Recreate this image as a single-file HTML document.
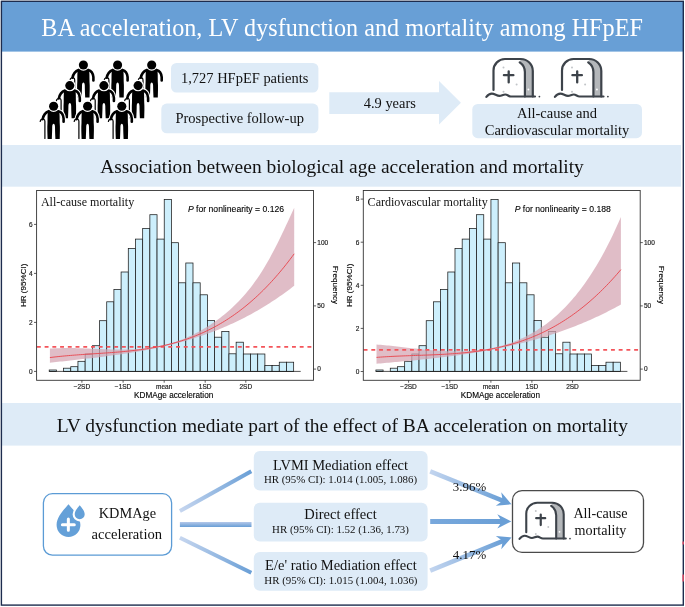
<!DOCTYPE html>
<html><head><meta charset="utf-8"><title>BA acceleration, LV dysfunction and mortality among HFpEF</title>
<style>html,body{margin:0;padding:0;background:#fff;} body{width:685px;height:607px;overflow:hidden;font-family:"Liberation Serif",serif;}</style>
</head><body>
<svg width="685" height="607" viewBox="0 0 685 607" style="display:block;will-change:transform">
<defs>
<g id="tomb">
<path d="M37.7,8.3 C41,10.5 42.9,13.5 42.9,18 L42.9,42.5 L50.8,42.5 L50.8,17 A12,12 0 0 0 38.8,5 Z" fill="#b4b7ba"/>
<path d="M11.5,35.9 L11.5,16.5 A11.5,11.5 0 0 1 23,5 L38.8,5 A12,12 0 0 1 50.8,17 L50.8,42.5" fill="none" stroke="#3d434a" stroke-width="2.2" stroke-linecap="round"/>
<path d="M37.7,8.3 C41,10.5 42.9,13.5 42.9,18 L42.9,42.5" fill="none" stroke="#3d434a" stroke-width="2.2" stroke-linecap="round"/>
<path d="M26.7,17.3 L26.7,28.4 M21.9,21.2 L31.4,21.2" fill="none" stroke="#3d434a" stroke-width="2.3" stroke-linecap="round"/>
<path d="M4.4,42.9 C6,40.8 7.8,39.6 9.8,39.6 C12.8,39.6 14.6,41.9 17.5,41.9 C19.6,41.9 21,40.5 23.2,40.5 C25.6,40.5 26.6,42.5 29,42.5 L53,42.5" fill="none" stroke="#3d434a" stroke-width="2.2" stroke-linecap="round"/>
<circle cx="21.5" cy="13.6" r="1" fill="#c2c5c8"/>
<circle cx="34.6" cy="30.5" r="1" fill="#c2c5c8"/>
<circle cx="21.5" cy="37.8" r="1" fill="#c2c5c8"/>
<circle cx="46.4" cy="35.5" r="0.95" fill="#fff"/>
<circle cx="57.4" cy="42.6" r="0.9" fill="#3d434a"/>
</g>
<g id="pb" fill="#000" stroke="#000" stroke-width="0"><path d="M-5.6,4.6 C-3.6,3.2 3.6,3.2 5.6,4.6 C6.2,8 6.0,12 6.1,16.5 C6.5,21 6.3,27 6.1,32.6 L1.8,32.6 C1.6,28 1.4,24 1.4,20.6 C1.4,16.3 -1.4,16.3 -1.4,20.6 C-1.4,24 -1.6,28 -1.8,32.6 L-6.0,32.6 C-6.2,27 -6.5,21 -6.1,16.5 C-6.0,12 -6.2,8 -5.6,4.6 Z"/>
<path d="M-4.8,4.9 C-7.7,5.9 -10.2,8.8 -10.9,12.8" fill="none" stroke-width="2.6" stroke-linecap="round"/>
<path d="M4.8,4.9 C7.9,5.6 9.7,8.6 10.0,12.2 L10.0,15.4" fill="none" stroke-width="2.6" stroke-linecap="round"/>
<path d="M-13.4,15.2 C-13.2,13.2 -11.3,12.3 -9.8,12.9 C-9.0,13.3 -8.7,14 -8.7,15 L-8.7,32.2" fill="none" stroke-width="1.2" stroke-linecap="round"/></g>
<g id="pw" fill="#fff" stroke="#fff" stroke-width="2.4" stroke-linejoin="round"><path d="M-5.6,4.6 C-3.6,3.2 3.6,3.2 5.6,4.6 C6.2,8 6.0,12 6.1,16.5 C6.5,21 6.3,27 6.1,32.6 L1.8,32.6 C1.6,28 1.4,24 1.4,20.6 C1.4,16.3 -1.4,16.3 -1.4,20.6 C-1.4,24 -1.6,28 -1.8,32.6 L-6.0,32.6 C-6.2,27 -6.5,21 -6.1,16.5 C-6.0,12 -6.2,8 -5.6,4.6 Z"/>
<path d="M-4.8,4.9 C-7.7,5.9 -10.2,8.8 -10.9,12.8" fill="none" stroke-width="4.7" stroke-linecap="round"/>
<path d="M4.8,4.9 C7.9,5.6 9.7,8.6 10.0,12.2 L10.0,15.4" fill="none" stroke-width="4.7" stroke-linecap="round"/>
<path d="M-13.4,15.2 C-13.2,13.2 -11.3,12.3 -9.8,12.9 C-9.0,13.3 -8.7,14 -8.7,15 L-8.7,32.2" fill="none" stroke-width="3.3" stroke-linecap="round"/></g>
<linearGradient id="c1" gradientUnits="userSpaceOnUse" x1="179.9" y1="511.1" x2="251.3" y2="471.3"><stop offset="0" stop-color="#c6d6ef"/><stop offset="1" stop-color="#6a9fd6"/></linearGradient>
<linearGradient id="c2" gradientUnits="userSpaceOnUse" x1="179.9" y1="521.9" x2="179.9" y2="526.9"><stop offset="0" stop-color="#b6c9ea"/><stop offset="1" stop-color="#6a9fd6"/></linearGradient>
<linearGradient id="c3" gradientUnits="userSpaceOnUse" x1="179.9" y1="537.8" x2="251.3" y2="572.8"><stop offset="0" stop-color="#c6d6ef"/><stop offset="1" stop-color="#6a9fd6"/></linearGradient>
<linearGradient id="a1" gradientUnits="userSpaceOnUse" x1="430.2" y1="471.3" x2="503.16" y2="500.92"><stop offset="0" stop-color="#c3d5ef"/><stop offset="1" stop-color="#6a9fd6"/></linearGradient>
<linearGradient id="a2" gradientUnits="userSpaceOnUse" x1="430.2" y1="521.4" x2="502.3" y2="521.4"><stop offset="0" stop-color="#78a8dc"/><stop offset="1" stop-color="#6a9fd6"/></linearGradient>
<linearGradient id="a3" gradientUnits="userSpaceOnUse" x1="430.2" y1="570.7" x2="503.17" y2="540.81"><stop offset="0" stop-color="#c3d5ef"/><stop offset="1" stop-color="#6a9fd6"/></linearGradient>
</defs>
<rect x="0" y="0" width="685" height="607" fill="#fff"/>
<!-- header -->
<rect x="2" y="2" width="681.5" height="49.6" fill="#689fd6"/>
<text transform="translate(342.1,35.8) scale(1,1.08)" x="0" y="0" font-size="24.18" text-anchor="middle" fill="#fff" font-family="'Liberation Serif', serif">BA acceleration, LV dysfunction and mortality among HFpEF</text>
<!-- section 1 -->
<g transform="translate(83.4,65.0)"><use href="#pw"/><use href="#pb"/><circle r="4.55" fill="#000" stroke="#fff" stroke-width="2.4" paint-order="stroke"/></g><g transform="translate(117.6,65.0)"><use href="#pw"/><use href="#pb"/><circle r="4.55" fill="#000" stroke="#fff" stroke-width="2.4" paint-order="stroke"/></g><g transform="translate(151.7,65.0)"><use href="#pw"/><use href="#pb"/><circle r="4.55" fill="#000" stroke="#fff" stroke-width="2.4" paint-order="stroke"/></g><g transform="translate(69.8,85.6)"><use href="#pw"/><use href="#pb"/><circle r="4.55" fill="#000" stroke="#fff" stroke-width="2.4" paint-order="stroke"/></g><g transform="translate(103.9,85.6)"><use href="#pw"/><use href="#pb"/><circle r="4.55" fill="#000" stroke="#fff" stroke-width="2.4" paint-order="stroke"/></g><g transform="translate(138.1,85.6)"><use href="#pw"/><use href="#pb"/><circle r="4.55" fill="#000" stroke="#fff" stroke-width="2.4" paint-order="stroke"/></g><g transform="translate(53.6,106.3)"><use href="#pw"/><use href="#pb"/><circle r="4.55" fill="#000" stroke="#fff" stroke-width="2.4" paint-order="stroke"/></g><g transform="translate(87.6,106.3)"><use href="#pw"/><use href="#pb"/><circle r="4.55" fill="#000" stroke="#fff" stroke-width="2.4" paint-order="stroke"/></g><g transform="translate(121.8,106.3)"><use href="#pw"/><use href="#pb"/><circle r="4.55" fill="#000" stroke="#fff" stroke-width="2.4" paint-order="stroke"/></g>
<rect x="171" y="62.9" width="147.4" height="29.7" rx="5.5" fill="#deebf7"/>
<text x="244.7" y="82.8" font-size="14.48" text-anchor="middle" fill="#111" font-family="'Liberation Serif', serif">1,727 HFpEF patients</text>
<rect x="161.3" y="103.6" width="157.1" height="29.7" rx="5.5" fill="#deebf7"/>
<text x="239.7" y="122.8" font-size="14.5" text-anchor="middle" fill="#111" font-family="'Liberation Serif', serif">Prospective follow-up</text>
<polygon points="329.3,92.2 439,92.2 439,81 460.9,102.7 439,124.4 439,113.9 329.3,113.9" fill="#deebf7"/>
<text x="389.8" y="107.8" font-size="14.45" text-anchor="middle" fill="#111" font-family="'Liberation Serif', serif">4.9 years</text>
<use href="#tomb" transform="translate(482,54)"/>
<use href="#tomb" transform="translate(550.5,54)"/>
<rect x="472.3" y="104" width="169.7" height="34.2" rx="5.5" fill="#deebf7"/>
<text x="557" y="118" font-size="14.5" text-anchor="middle" fill="#111" font-family="'Liberation Serif', serif">All-cause and</text>
<text x="557" y="135" font-size="14.5" text-anchor="middle" fill="#111" font-family="'Liberation Serif', serif">Cardiovascular mortality</text>
<!-- section 2 -->
<rect x="2" y="145" width="679" height="41.7" fill="#deebf7"/>
<text x="342.0" y="173" font-size="19.46" text-anchor="middle" fill="#111" font-family="'Liberation Serif', serif">Association between biological age acceleration and mortality</text>
<rect x="49.20" y="370.00" width="7.19" height="1.40" fill="#cdeffc" fill-opacity="1.0" stroke="#1a1a1a" stroke-width="0.75"/>
<rect x="63.58" y="368.20" width="7.19" height="3.20" fill="#cdeffc" fill-opacity="1.0" stroke="#1a1a1a" stroke-width="0.75"/>
<rect x="70.77" y="366.70" width="7.19" height="4.70" fill="#cdeffc" fill-opacity="1.0" stroke="#1a1a1a" stroke-width="0.75"/>
<rect x="77.96" y="361.30" width="7.19" height="10.10" fill="#cdeffc" fill-opacity="1.0" stroke="#1a1a1a" stroke-width="0.75"/>
<rect x="85.15" y="354.00" width="7.19" height="17.40" fill="#cdeffc" fill-opacity="1.0" stroke="#1a1a1a" stroke-width="0.75"/>
<rect x="92.34" y="345.70" width="7.19" height="25.70" fill="#cdeffc" fill-opacity="1.0" stroke="#1a1a1a" stroke-width="0.75"/>
<rect x="99.53" y="320.70" width="7.19" height="50.70" fill="#cdeffc" fill-opacity="1.0" stroke="#1a1a1a" stroke-width="0.75"/>
<rect x="106.72" y="301.80" width="7.19" height="69.60" fill="#cdeffc" fill-opacity="1.0" stroke="#1a1a1a" stroke-width="0.75"/>
<rect x="113.91" y="289.40" width="7.19" height="82.00" fill="#cdeffc" fill-opacity="1.0" stroke="#1a1a1a" stroke-width="0.75"/>
<rect x="121.10" y="272.00" width="7.19" height="99.40" fill="#cdeffc" fill-opacity="1.0" stroke="#1a1a1a" stroke-width="0.75"/>
<rect x="128.29" y="248.50" width="7.19" height="122.90" fill="#cdeffc" fill-opacity="1.0" stroke="#1a1a1a" stroke-width="0.75"/>
<rect x="135.48" y="239.10" width="7.19" height="132.30" fill="#cdeffc" fill-opacity="1.0" stroke="#1a1a1a" stroke-width="0.75"/>
<rect x="142.67" y="228.40" width="7.19" height="143.00" fill="#cdeffc" fill-opacity="1.0" stroke="#1a1a1a" stroke-width="0.75"/>
<rect x="149.86" y="214.70" width="7.19" height="156.70" fill="#cdeffc" fill-opacity="1.0" stroke="#1a1a1a" stroke-width="0.75"/>
<rect x="157.05" y="239.10" width="7.19" height="132.30" fill="#cdeffc" fill-opacity="1.0" stroke="#1a1a1a" stroke-width="0.75"/>
<rect x="164.24" y="199.40" width="7.19" height="172.00" fill="#cdeffc" fill-opacity="1.0" stroke="#1a1a1a" stroke-width="0.75"/>
<rect x="171.43" y="242.70" width="7.19" height="128.70" fill="#cdeffc" fill-opacity="1.0" stroke="#1a1a1a" stroke-width="0.75"/>
<rect x="178.62" y="282.80" width="7.19" height="88.60" fill="#cdeffc" fill-opacity="1.0" stroke="#1a1a1a" stroke-width="0.75"/>
<rect x="185.81" y="263.00" width="7.19" height="108.40" fill="#cdeffc" fill-opacity="1.0" stroke="#1a1a1a" stroke-width="0.75"/>
<rect x="193.00" y="282.80" width="7.19" height="88.60" fill="#cdeffc" fill-opacity="1.0" stroke="#1a1a1a" stroke-width="0.75"/>
<rect x="200.19" y="294.80" width="7.19" height="76.60" fill="#cdeffc" fill-opacity="1.0" stroke="#1a1a1a" stroke-width="0.75"/>
<rect x="207.38" y="320.60" width="7.19" height="50.80" fill="#cdeffc" fill-opacity="1.0" stroke="#1a1a1a" stroke-width="0.75"/>
<rect x="214.57" y="337.20" width="7.19" height="34.20" fill="#cdeffc" fill-opacity="1.0" stroke="#1a1a1a" stroke-width="0.75"/>
<rect x="221.76" y="331.40" width="7.19" height="40.00" fill="#cdeffc" fill-opacity="1.0" stroke="#1a1a1a" stroke-width="0.75"/>
<rect x="228.95" y="353.80" width="7.19" height="17.60" fill="#cdeffc" fill-opacity="1.0" stroke="#1a1a1a" stroke-width="0.75"/>
<rect x="236.14" y="342.20" width="7.19" height="29.20" fill="#cdeffc" fill-opacity="1.0" stroke="#1a1a1a" stroke-width="0.75"/>
<rect x="243.33" y="354.00" width="7.19" height="17.40" fill="#cdeffc" fill-opacity="1.0" stroke="#1a1a1a" stroke-width="0.75"/>
<rect x="250.52" y="354.00" width="7.19" height="17.40" fill="#cdeffc" fill-opacity="1.0" stroke="#1a1a1a" stroke-width="0.75"/>
<rect x="257.71" y="354.00" width="7.19" height="17.40" fill="#cdeffc" fill-opacity="1.0" stroke="#1a1a1a" stroke-width="0.75"/>
<rect x="264.90" y="365.50" width="7.19" height="5.90" fill="#cdeffc" fill-opacity="1.0" stroke="#1a1a1a" stroke-width="0.75"/>
<rect x="272.09" y="365.50" width="7.19" height="5.90" fill="#cdeffc" fill-opacity="1.0" stroke="#1a1a1a" stroke-width="0.75"/>
<rect x="279.28" y="362.20" width="7.19" height="9.20" fill="#cdeffc" fill-opacity="1.0" stroke="#1a1a1a" stroke-width="0.75"/>
<rect x="286.47" y="362.20" width="7.19" height="9.20" fill="#cdeffc" fill-opacity="1.0" stroke="#1a1a1a" stroke-width="0.75"/>
<line x1="49.20" y1="371.4" x2="300.70" y2="371.4" stroke="#1a1a1a" stroke-width="0.75"/>
<polygon points="49.90,348.62 51.95,348.48 54.01,348.37 56.06,348.27 58.11,348.20 60.16,348.14 62.22,348.09 64.27,348.06 66.32,348.05 68.38,348.05 70.43,348.06 72.48,348.08 74.54,348.12 76.59,348.16 78.64,348.21 80.69,348.27 82.75,348.34 84.80,348.41 86.85,348.48 88.91,348.56 90.96,348.64 93.01,348.73 95.06,348.81 97.12,348.89 99.17,348.98 101.22,349.05 103.28,349.13 105.33,349.20 107.38,349.27 109.44,349.33 111.49,349.38 113.54,349.42 115.59,349.46 117.65,349.48 119.70,349.50 121.75,349.50 123.81,349.49 125.86,349.46 127.91,349.42 129.96,349.36 132.02,349.28 134.07,349.19 136.12,349.08 138.18,348.94 140.23,348.79 142.28,348.61 144.34,348.41 146.39,348.19 148.44,347.94 150.49,347.67 152.55,347.36 154.60,347.03 156.65,346.68 158.71,346.29 160.76,345.87 162.81,345.41 164.86,344.93 166.92,344.41 168.97,343.86 171.02,343.27 173.08,342.65 175.13,341.99 177.18,341.29 179.24,340.56 181.29,339.80 183.34,338.99 185.39,338.15 187.45,337.27 189.50,336.35 191.55,335.39 193.61,334.40 195.66,333.36 197.71,332.28 199.76,331.17 201.82,330.01 203.87,328.81 205.92,327.57 207.98,326.28 210.03,324.96 212.08,323.59 214.14,322.17 216.19,320.71 218.24,319.21 220.29,317.66 222.35,316.07 224.40,314.43 226.45,312.73 228.51,310.98 230.56,309.16 232.61,307.29 234.66,305.34 236.72,303.33 238.77,301.23 240.82,299.06 242.88,296.81 244.93,294.47 246.98,292.04 249.04,289.52 251.09,286.91 253.14,284.19 255.19,281.36 257.25,278.43 259.30,275.39 261.35,272.24 263.41,268.96 265.46,265.56 267.51,262.04 269.56,258.39 271.62,254.61 273.67,250.72 275.72,246.73 277.78,242.65 279.83,238.48 281.88,234.24 283.94,229.93 285.99,225.58 288.04,221.17 290.09,216.74 292.15,212.28 294.20,207.80 294.20,285.76 292.15,287.34 290.09,288.90 288.04,290.44 285.99,291.95 283.94,293.44 281.88,294.90 279.83,296.34 277.78,297.76 275.72,299.15 273.67,300.52 271.62,301.86 269.56,303.19 267.51,304.49 265.46,305.77 263.41,307.03 261.35,308.26 259.30,309.48 257.25,310.67 255.19,311.84 253.14,312.99 251.09,314.13 249.04,315.24 246.98,316.33 244.93,317.40 242.88,318.45 240.82,319.48 238.77,320.50 236.72,321.49 234.66,322.47 232.61,323.42 230.56,324.36 228.51,325.28 226.45,326.19 224.40,327.07 222.35,327.94 220.29,328.79 218.24,329.63 216.19,330.45 214.14,331.25 212.08,332.03 210.03,332.80 207.98,333.56 205.92,334.30 203.87,335.02 201.82,335.73 199.76,336.42 197.71,337.10 195.66,337.77 193.61,338.42 191.55,339.06 189.50,339.68 187.45,340.29 185.39,340.89 183.34,341.47 181.29,342.04 179.24,342.60 177.18,343.15 175.13,343.68 173.08,344.21 171.02,344.72 168.97,345.22 166.92,345.71 164.86,346.19 162.81,346.66 160.76,347.11 158.71,347.56 156.65,348.00 154.60,348.43 152.55,348.84 150.49,349.25 148.44,349.65 146.39,350.05 144.34,350.43 142.28,350.80 140.23,351.17 138.18,351.53 136.12,351.88 134.07,352.22 132.02,352.56 129.96,352.89 127.91,353.21 125.86,353.53 123.81,353.84 121.75,354.14 119.70,354.44 117.65,354.73 115.59,355.02 113.54,355.30 111.49,355.58 109.44,355.86 107.38,356.12 105.33,356.39 103.28,356.65 101.22,356.91 99.17,357.16 97.12,357.41 95.06,357.66 93.01,357.90 90.96,358.14 88.91,358.38 86.85,358.62 84.80,358.86 82.75,359.09 80.69,359.32 78.64,359.55 76.59,359.78 74.54,360.01 72.48,360.24 70.43,360.47 68.38,360.70 66.32,360.93 64.27,361.16 62.22,361.39 60.16,361.62 58.11,361.85 56.06,362.09 54.01,362.32 51.95,362.56 49.90,362.80" fill="#d4a3b1" fill-opacity="0.72"/>
<line x1="36.90" y1="346.90" x2="312.00" y2="346.90" stroke="#f4545a" stroke-width="1.7" stroke-dasharray="3.9,3.83"/>
<polyline points="49.90,357.57 51.95,357.31 54.01,357.06 56.06,356.83 58.11,356.60 60.16,356.39 62.22,356.18 64.27,355.99 66.32,355.80 68.38,355.62 70.43,355.44 72.48,355.27 74.54,355.11 76.59,354.96 78.64,354.80 80.69,354.66 82.75,354.51 84.80,354.37 86.85,354.23 88.91,354.10 90.96,353.96 93.01,353.83 95.06,353.70 97.12,353.56 99.17,353.43 101.22,353.29 103.28,353.15 105.33,353.01 107.38,352.87 109.44,352.72 111.49,352.57 113.54,352.41 115.59,352.25 117.65,352.08 119.70,351.91 121.75,351.73 123.81,351.54 125.86,351.34 127.91,351.14 129.96,350.92 132.02,350.70 134.07,350.46 136.12,350.21 138.18,349.96 140.23,349.69 142.28,349.40 144.34,349.11 146.39,348.80 148.44,348.47 150.49,348.13 152.55,347.78 154.60,347.41 156.65,347.02 158.71,346.62 160.76,346.20 162.81,345.76 164.86,345.30 166.92,344.82 168.97,344.32 171.02,343.80 173.08,343.26 175.13,342.70 177.18,342.12 179.24,341.51 181.29,340.88 183.34,340.22 185.39,339.55 187.45,338.84 189.50,338.11 191.55,337.36 193.61,336.58 195.66,335.77 197.71,334.93 199.76,334.06 201.82,333.17 203.87,332.25 205.92,331.29 207.98,330.31 210.03,329.29 212.08,328.24 214.14,327.16 216.19,326.05 218.24,324.90 220.29,323.72 222.35,322.51 224.40,321.26 226.45,319.97 228.51,318.65 230.56,317.29 232.61,315.89 234.66,314.46 236.72,312.98 238.77,311.47 240.82,309.92 242.88,308.33 244.93,306.69 246.98,305.02 249.04,303.30 251.09,301.55 253.14,299.74 255.19,297.90 257.25,296.01 259.30,294.07 261.35,292.10 263.41,290.07 265.46,288.00 267.51,285.88 269.56,283.71 271.62,281.50 273.67,279.24 275.72,276.92 277.78,274.56 279.83,272.15 281.88,269.69 283.94,267.17 285.99,264.61 288.04,261.99 290.09,259.31 292.15,256.59 294.20,253.81" fill="none" stroke="#e9434b" stroke-width="0.9"/>
<rect x="36.60" y="190.5" width="276.90" height="189.80" fill="none" stroke="#333" stroke-width="0.9"/>
<line x1="34.00" y1="371.40" x2="36.60" y2="371.40" stroke="#333" stroke-width="0.8"/>
<text x="32.60" y="373.70" font-size="6.5" text-anchor="end" fill="#222" stroke="#222" stroke-width="0.18" font-family="'Liberation Sans', sans-serif">0</text>
<line x1="34.00" y1="322.40" x2="36.60" y2="322.40" stroke="#333" stroke-width="0.8"/>
<text x="32.60" y="324.70" font-size="6.5" text-anchor="end" fill="#222" stroke="#222" stroke-width="0.18" font-family="'Liberation Sans', sans-serif">2</text>
<line x1="34.00" y1="273.40" x2="36.60" y2="273.40" stroke="#333" stroke-width="0.8"/>
<text x="32.60" y="275.70" font-size="6.5" text-anchor="end" fill="#222" stroke="#222" stroke-width="0.18" font-family="'Liberation Sans', sans-serif">4</text>
<line x1="34.00" y1="224.40" x2="36.60" y2="224.40" stroke="#333" stroke-width="0.8"/>
<text x="32.60" y="226.70" font-size="6.5" text-anchor="end" fill="#222" stroke="#222" stroke-width="0.18" font-family="'Liberation Sans', sans-serif">6</text>
<line x1="313.50" y1="369.10" x2="316.10" y2="369.10" stroke="#333" stroke-width="0.8"/>
<text x="317.30" y="371.40" font-size="6.5" fill="#222" stroke="#222" stroke-width="0.18" font-family="'Liberation Sans', sans-serif">0</text>
<line x1="313.50" y1="305.90" x2="316.10" y2="305.90" stroke="#333" stroke-width="0.8"/>
<text x="317.30" y="308.20" font-size="6.5" fill="#222" stroke="#222" stroke-width="0.18" font-family="'Liberation Sans', sans-serif">50</text>
<line x1="313.50" y1="242.60" x2="316.10" y2="242.60" stroke="#333" stroke-width="0.8"/>
<text x="317.30" y="244.90" font-size="6.5" fill="#222" stroke="#222" stroke-width="0.18" font-family="'Liberation Sans', sans-serif">100</text>
<line x1="81.90" y1="380.3" x2="81.90" y2="382.70" stroke="#333" stroke-width="0.8"/>
<text x="81.90" y="389.2" font-size="6.5" text-anchor="middle" fill="#222" stroke="#222" stroke-width="0.18" font-family="'Liberation Sans', sans-serif">−2SD</text>
<line x1="123.10" y1="380.3" x2="123.10" y2="382.70" stroke="#333" stroke-width="0.8"/>
<text x="123.10" y="389.2" font-size="6.5" text-anchor="middle" fill="#222" stroke="#222" stroke-width="0.18" font-family="'Liberation Sans', sans-serif">−1SD</text>
<line x1="164.20" y1="380.3" x2="164.20" y2="382.70" stroke="#333" stroke-width="0.8"/>
<text x="164.20" y="389.2" font-size="6.5" text-anchor="middle" fill="#222" stroke="#222" stroke-width="0.18" font-family="'Liberation Sans', sans-serif">mean</text>
<line x1="205.20" y1="380.3" x2="205.20" y2="382.70" stroke="#333" stroke-width="0.8"/>
<text x="205.20" y="389.2" font-size="6.5" text-anchor="middle" fill="#222" stroke="#222" stroke-width="0.18" font-family="'Liberation Sans', sans-serif">1SD</text>
<line x1="245.80" y1="380.3" x2="245.80" y2="382.70" stroke="#333" stroke-width="0.8"/>
<text x="245.80" y="389.2" font-size="6.5" text-anchor="middle" fill="#222" stroke="#222" stroke-width="0.18" font-family="'Liberation Sans', sans-serif">2SD</text>
<text x="173.70" y="397.8" font-size="8.2" text-anchor="middle" fill="#000" stroke="#000" stroke-width="0.12" font-family="'Liberation Sans', sans-serif">KDMAge acceleration</text>
<text transform="translate(25.60,285.3) rotate(-90)" font-size="8.05" text-anchor="middle" fill="#000" stroke="#000" stroke-width="0.12" font-family="'Liberation Sans', sans-serif">HR (95%CI)</text>
<text transform="translate(332.60,284.9) rotate(90)" font-size="8.1" text-anchor="middle" fill="#000" stroke="#000" stroke-width="0.12" font-family="'Liberation Sans', sans-serif">Frequency</text>
<text x="40.90" y="206" font-size="12.05" fill="#111" font-family="'Liberation Serif', serif">All-cause mortality</text>
<text x="284.10" y="212.3" font-size="8.65" text-anchor="end" fill="#000" stroke="#000" stroke-width="0.1" font-family="'Liberation Sans', sans-serif"><tspan font-style="italic">P</tspan> for nonlinearity = 0.126</text>
<rect x="375.90" y="370.00" width="7.19" height="1.40" fill="#cdeffc" fill-opacity="1.0" stroke="#1a1a1a" stroke-width="0.75"/>
<rect x="390.28" y="368.20" width="7.19" height="3.20" fill="#cdeffc" fill-opacity="1.0" stroke="#1a1a1a" stroke-width="0.75"/>
<rect x="397.47" y="366.70" width="7.19" height="4.70" fill="#cdeffc" fill-opacity="1.0" stroke="#1a1a1a" stroke-width="0.75"/>
<rect x="404.66" y="361.30" width="7.19" height="10.10" fill="#cdeffc" fill-opacity="1.0" stroke="#1a1a1a" stroke-width="0.75"/>
<rect x="411.85" y="354.00" width="7.19" height="17.40" fill="#cdeffc" fill-opacity="1.0" stroke="#1a1a1a" stroke-width="0.75"/>
<rect x="419.04" y="345.70" width="7.19" height="25.70" fill="#cdeffc" fill-opacity="1.0" stroke="#1a1a1a" stroke-width="0.75"/>
<rect x="426.23" y="320.70" width="7.19" height="50.70" fill="#cdeffc" fill-opacity="1.0" stroke="#1a1a1a" stroke-width="0.75"/>
<rect x="433.42" y="301.80" width="7.19" height="69.60" fill="#cdeffc" fill-opacity="1.0" stroke="#1a1a1a" stroke-width="0.75"/>
<rect x="440.61" y="289.40" width="7.19" height="82.00" fill="#cdeffc" fill-opacity="1.0" stroke="#1a1a1a" stroke-width="0.75"/>
<rect x="447.80" y="272.00" width="7.19" height="99.40" fill="#cdeffc" fill-opacity="1.0" stroke="#1a1a1a" stroke-width="0.75"/>
<rect x="454.99" y="248.50" width="7.19" height="122.90" fill="#cdeffc" fill-opacity="1.0" stroke="#1a1a1a" stroke-width="0.75"/>
<rect x="462.18" y="239.10" width="7.19" height="132.30" fill="#cdeffc" fill-opacity="1.0" stroke="#1a1a1a" stroke-width="0.75"/>
<rect x="469.37" y="228.40" width="7.19" height="143.00" fill="#cdeffc" fill-opacity="1.0" stroke="#1a1a1a" stroke-width="0.75"/>
<rect x="476.56" y="214.70" width="7.19" height="156.70" fill="#cdeffc" fill-opacity="1.0" stroke="#1a1a1a" stroke-width="0.75"/>
<rect x="483.75" y="239.10" width="7.19" height="132.30" fill="#cdeffc" fill-opacity="1.0" stroke="#1a1a1a" stroke-width="0.75"/>
<rect x="490.94" y="199.40" width="7.19" height="172.00" fill="#cdeffc" fill-opacity="1.0" stroke="#1a1a1a" stroke-width="0.75"/>
<rect x="498.13" y="242.70" width="7.19" height="128.70" fill="#cdeffc" fill-opacity="1.0" stroke="#1a1a1a" stroke-width="0.75"/>
<rect x="505.32" y="282.80" width="7.19" height="88.60" fill="#cdeffc" fill-opacity="1.0" stroke="#1a1a1a" stroke-width="0.75"/>
<rect x="512.51" y="263.00" width="7.19" height="108.40" fill="#cdeffc" fill-opacity="1.0" stroke="#1a1a1a" stroke-width="0.75"/>
<rect x="519.70" y="282.80" width="7.19" height="88.60" fill="#cdeffc" fill-opacity="1.0" stroke="#1a1a1a" stroke-width="0.75"/>
<rect x="526.89" y="294.80" width="7.19" height="76.60" fill="#cdeffc" fill-opacity="1.0" stroke="#1a1a1a" stroke-width="0.75"/>
<rect x="534.08" y="320.60" width="7.19" height="50.80" fill="#cdeffc" fill-opacity="1.0" stroke="#1a1a1a" stroke-width="0.75"/>
<rect x="541.27" y="337.20" width="7.19" height="34.20" fill="#cdeffc" fill-opacity="1.0" stroke="#1a1a1a" stroke-width="0.75"/>
<rect x="548.46" y="331.40" width="7.19" height="40.00" fill="#cdeffc" fill-opacity="1.0" stroke="#1a1a1a" stroke-width="0.75"/>
<rect x="555.65" y="353.80" width="7.19" height="17.60" fill="#cdeffc" fill-opacity="1.0" stroke="#1a1a1a" stroke-width="0.75"/>
<rect x="562.84" y="342.20" width="7.19" height="29.20" fill="#cdeffc" fill-opacity="1.0" stroke="#1a1a1a" stroke-width="0.75"/>
<rect x="570.03" y="354.00" width="7.19" height="17.40" fill="#cdeffc" fill-opacity="1.0" stroke="#1a1a1a" stroke-width="0.75"/>
<rect x="577.22" y="354.00" width="7.19" height="17.40" fill="#cdeffc" fill-opacity="1.0" stroke="#1a1a1a" stroke-width="0.75"/>
<rect x="584.41" y="354.00" width="7.19" height="17.40" fill="#cdeffc" fill-opacity="1.0" stroke="#1a1a1a" stroke-width="0.75"/>
<rect x="591.60" y="365.50" width="7.19" height="5.90" fill="#cdeffc" fill-opacity="1.0" stroke="#1a1a1a" stroke-width="0.75"/>
<rect x="598.79" y="365.50" width="7.19" height="5.90" fill="#cdeffc" fill-opacity="1.0" stroke="#1a1a1a" stroke-width="0.75"/>
<rect x="605.98" y="362.20" width="7.19" height="9.20" fill="#cdeffc" fill-opacity="1.0" stroke="#1a1a1a" stroke-width="0.75"/>
<rect x="613.17" y="362.20" width="7.19" height="9.20" fill="#cdeffc" fill-opacity="1.0" stroke="#1a1a1a" stroke-width="0.75"/>
<line x1="375.90" y1="371.4" x2="627.40" y2="371.4" stroke="#1a1a1a" stroke-width="0.75"/>
<polygon points="376.50,344.46 378.55,344.63 380.61,344.81 382.66,345.01 384.72,345.21 386.77,345.41 388.82,345.62 390.88,345.84 392.93,346.06 394.98,346.29 397.04,346.52 399.09,346.75 401.15,346.99 403.20,347.22 405.25,347.46 407.31,347.69 409.36,347.93 411.41,348.16 413.47,348.39 415.52,348.62 417.58,348.84 419.63,349.06 421.68,349.27 423.74,349.48 425.79,349.67 427.84,349.87 429.90,350.05 431.95,350.23 434.01,350.39 436.06,350.55 438.11,350.69 440.17,350.82 442.22,350.94 444.27,351.05 446.33,351.14 448.38,351.22 450.44,351.28 452.49,351.32 454.54,351.35 456.60,351.36 458.65,351.36 460.71,351.33 462.76,351.29 464.81,351.22 466.87,351.13 468.92,351.02 470.97,350.89 473.03,350.74 475.08,350.56 477.14,350.35 479.19,350.12 481.24,349.87 483.30,349.59 485.35,349.28 487.40,348.94 489.46,348.57 491.51,348.17 493.57,347.74 495.62,347.29 497.67,346.79 499.73,346.27 501.78,345.71 503.83,345.12 505.89,344.50 507.94,343.83 510.00,343.14 512.05,342.40 514.10,341.63 516.16,340.82 518.21,339.97 520.26,339.08 522.32,338.15 524.37,337.17 526.43,336.16 528.48,335.10 530.53,334.00 532.59,332.85 534.64,331.66 536.69,330.41 538.75,329.12 540.80,327.77 542.86,326.37 544.91,324.91 546.96,323.39 549.02,321.82 551.07,320.19 553.13,318.49 555.18,316.74 557.23,314.92 559.29,313.03 561.34,311.08 563.39,309.05 565.45,306.96 567.50,304.79 569.56,302.55 571.61,300.24 573.66,297.85 575.72,295.38 577.77,292.83 579.82,290.20 581.88,287.49 583.93,284.69 585.99,281.80 588.04,278.82 590.09,275.75 592.15,272.58 594.20,269.32 596.25,265.96 598.31,262.49 600.36,258.92 602.42,255.25 604.47,251.47 606.52,247.57 608.58,243.57 610.63,239.45 612.68,235.21 614.74,230.85 616.79,226.37 618.85,221.77 620.90,217.04 620.90,304.58 618.85,305.70 616.79,306.82 614.74,307.91 612.68,308.99 610.63,310.06 608.58,311.11 606.52,312.14 604.47,313.16 602.42,314.16 600.36,315.15 598.31,316.13 596.25,317.09 594.20,318.03 592.15,318.96 590.09,319.88 588.04,320.78 585.99,321.67 583.93,322.54 581.88,323.40 579.82,324.25 577.77,325.08 575.72,325.90 573.66,326.71 571.61,327.51 569.56,328.29 567.50,329.06 565.45,329.81 563.39,330.56 561.34,331.29 559.29,332.01 557.23,332.71 555.18,333.41 553.13,334.09 551.07,334.76 549.02,335.42 546.96,336.07 544.91,336.71 542.86,337.33 540.80,337.95 538.75,338.55 536.69,339.15 534.64,339.73 532.59,340.30 530.53,340.87 528.48,341.42 526.43,341.96 524.37,342.49 522.32,343.02 520.26,343.53 518.21,344.03 516.16,344.53 514.10,345.01 512.05,345.49 510.00,345.96 507.94,346.42 505.89,346.87 503.83,347.31 501.78,347.74 499.73,348.17 497.67,348.58 495.62,348.99 493.57,349.39 491.51,349.78 489.46,350.17 487.40,350.55 485.35,350.92 483.30,351.28 481.24,351.64 479.19,351.99 477.14,352.33 475.08,352.67 473.03,353.00 470.97,353.32 468.92,353.64 466.87,353.95 464.81,354.26 462.76,354.56 460.71,354.85 458.65,355.14 456.60,355.43 454.54,355.70 452.49,355.98 450.44,356.24 448.38,356.51 446.33,356.77 444.27,357.02 442.22,357.27 440.17,357.52 438.11,357.76 436.06,357.99 434.01,358.23 431.95,358.46 429.90,358.68 427.84,358.91 425.79,359.13 423.74,359.34 421.68,359.56 419.63,359.77 417.58,359.97 415.52,360.18 413.47,360.38 411.41,360.58 409.36,360.78 407.31,360.97 405.25,361.17 403.20,361.36 401.15,361.55 399.09,361.74 397.04,361.93 394.98,362.11 392.93,362.30 390.88,362.48 388.82,362.66 386.77,362.85 384.72,363.03 382.66,363.21 380.61,363.39 378.55,363.57 376.50,363.75" fill="#d4a3b1" fill-opacity="0.72"/>
<line x1="363.60" y1="349.95" x2="638.70" y2="349.95" stroke="#f4545a" stroke-width="1.7" stroke-dasharray="3.9,3.83"/>
<polyline points="376.50,357.39 378.55,357.24 380.61,357.09 382.66,356.95 384.72,356.82 386.77,356.69 388.82,356.58 390.88,356.47 392.93,356.36 394.98,356.26 397.04,356.17 399.09,356.08 401.15,355.99 403.20,355.91 405.25,355.83 407.31,355.75 409.36,355.68 411.41,355.60 413.47,355.53 415.52,355.46 417.58,355.39 419.63,355.32 421.68,355.25 423.74,355.17 425.79,355.10 427.84,355.02 429.90,354.94 431.95,354.86 434.01,354.77 436.06,354.68 438.11,354.58 440.17,354.48 442.22,354.38 444.27,354.27 446.33,354.15 448.38,354.02 450.44,353.89 452.49,353.75 454.54,353.60 456.60,353.44 458.65,353.27 460.71,353.09 462.76,352.91 464.81,352.71 466.87,352.50 468.92,352.28 470.97,352.04 473.03,351.79 475.08,351.53 477.14,351.26 479.19,350.97 481.24,350.67 483.30,350.35 485.35,350.02 487.40,349.67 489.46,349.30 491.51,348.92 493.57,348.52 495.62,348.10 497.67,347.67 499.73,347.21 501.78,346.74 503.83,346.24 505.89,345.72 507.94,345.19 510.00,344.63 512.05,344.05 514.10,343.45 516.16,342.83 518.21,342.18 520.26,341.51 522.32,340.81 524.37,340.09 526.43,339.34 528.48,338.57 530.53,337.78 532.59,336.95 534.64,336.10 536.69,335.22 538.75,334.32 540.80,333.38 542.86,332.42 544.91,331.42 546.96,330.40 549.02,329.35 551.07,328.26 553.13,327.15 555.18,326.00 557.23,324.82 559.29,323.60 561.34,322.36 563.39,321.08 565.45,319.76 567.50,318.41 569.56,317.03 571.61,315.61 573.66,314.15 575.72,312.66 577.77,311.13 579.82,309.56 581.88,307.96 583.93,306.31 585.99,304.63 588.04,302.91 590.09,301.15 592.15,299.34 594.20,297.50 596.25,295.61 598.31,293.69 600.36,291.72 602.42,289.70 604.47,287.65 606.52,285.55 608.58,283.40 610.63,281.22 612.68,278.98 614.74,276.70 616.79,274.38 618.85,272.00 620.90,269.58" fill="none" stroke="#e9434b" stroke-width="0.9"/>
<rect x="363.30" y="190.5" width="276.90" height="189.80" fill="none" stroke="#333" stroke-width="0.9"/>
<line x1="360.70" y1="371.50" x2="363.30" y2="371.50" stroke="#333" stroke-width="0.8"/>
<text x="359.30" y="373.80" font-size="6.5" text-anchor="end" fill="#222" stroke="#222" stroke-width="0.18" font-family="'Liberation Sans', sans-serif">0</text>
<line x1="360.70" y1="328.40" x2="363.30" y2="328.40" stroke="#333" stroke-width="0.8"/>
<text x="359.30" y="330.70" font-size="6.5" text-anchor="end" fill="#222" stroke="#222" stroke-width="0.18" font-family="'Liberation Sans', sans-serif">2</text>
<line x1="360.70" y1="285.30" x2="363.30" y2="285.30" stroke="#333" stroke-width="0.8"/>
<text x="359.30" y="287.60" font-size="6.5" text-anchor="end" fill="#222" stroke="#222" stroke-width="0.18" font-family="'Liberation Sans', sans-serif">4</text>
<line x1="360.70" y1="242.20" x2="363.30" y2="242.20" stroke="#333" stroke-width="0.8"/>
<text x="359.30" y="244.50" font-size="6.5" text-anchor="end" fill="#222" stroke="#222" stroke-width="0.18" font-family="'Liberation Sans', sans-serif">6</text>
<line x1="360.70" y1="199.10" x2="363.30" y2="199.10" stroke="#333" stroke-width="0.8"/>
<text x="359.30" y="201.40" font-size="6.5" text-anchor="end" fill="#222" stroke="#222" stroke-width="0.18" font-family="'Liberation Sans', sans-serif">8</text>
<line x1="640.20" y1="369.10" x2="642.80" y2="369.10" stroke="#333" stroke-width="0.8"/>
<text x="644.00" y="371.40" font-size="6.5" fill="#222" stroke="#222" stroke-width="0.18" font-family="'Liberation Sans', sans-serif">0</text>
<line x1="640.20" y1="305.90" x2="642.80" y2="305.90" stroke="#333" stroke-width="0.8"/>
<text x="644.00" y="308.20" font-size="6.5" fill="#222" stroke="#222" stroke-width="0.18" font-family="'Liberation Sans', sans-serif">50</text>
<line x1="640.20" y1="242.60" x2="642.80" y2="242.60" stroke="#333" stroke-width="0.8"/>
<text x="644.00" y="244.90" font-size="6.5" fill="#222" stroke="#222" stroke-width="0.18" font-family="'Liberation Sans', sans-serif">100</text>
<line x1="408.60" y1="380.3" x2="408.60" y2="382.70" stroke="#333" stroke-width="0.8"/>
<text x="408.60" y="389.2" font-size="6.5" text-anchor="middle" fill="#222" stroke="#222" stroke-width="0.18" font-family="'Liberation Sans', sans-serif">−2SD</text>
<line x1="449.80" y1="380.3" x2="449.80" y2="382.70" stroke="#333" stroke-width="0.8"/>
<text x="449.80" y="389.2" font-size="6.5" text-anchor="middle" fill="#222" stroke="#222" stroke-width="0.18" font-family="'Liberation Sans', sans-serif">−1SD</text>
<line x1="490.90" y1="380.3" x2="490.90" y2="382.70" stroke="#333" stroke-width="0.8"/>
<text x="490.90" y="389.2" font-size="6.5" text-anchor="middle" fill="#222" stroke="#222" stroke-width="0.18" font-family="'Liberation Sans', sans-serif">mean</text>
<line x1="531.90" y1="380.3" x2="531.90" y2="382.70" stroke="#333" stroke-width="0.8"/>
<text x="531.90" y="389.2" font-size="6.5" text-anchor="middle" fill="#222" stroke="#222" stroke-width="0.18" font-family="'Liberation Sans', sans-serif">1SD</text>
<line x1="572.50" y1="380.3" x2="572.50" y2="382.70" stroke="#333" stroke-width="0.8"/>
<text x="572.50" y="389.2" font-size="6.5" text-anchor="middle" fill="#222" stroke="#222" stroke-width="0.18" font-family="'Liberation Sans', sans-serif">2SD</text>
<text x="500.40" y="397.8" font-size="8.2" text-anchor="middle" fill="#000" stroke="#000" stroke-width="0.12" font-family="'Liberation Sans', sans-serif">KDMAge acceleration</text>
<text transform="translate(352.30,285.3) rotate(-90)" font-size="8.05" text-anchor="middle" fill="#000" stroke="#000" stroke-width="0.12" font-family="'Liberation Sans', sans-serif">HR (95%CI)</text>
<text transform="translate(659.30,284.9) rotate(90)" font-size="8.1" text-anchor="middle" fill="#000" stroke="#000" stroke-width="0.12" font-family="'Liberation Sans', sans-serif">Frequency</text>
<text x="367.60" y="206" font-size="12.05" fill="#111" font-family="'Liberation Serif', serif">Cardiovascular mortality</text>
<text x="610.80" y="212.3" font-size="8.65" text-anchor="end" fill="#000" stroke="#000" stroke-width="0.1" font-family="'Liberation Sans', sans-serif"><tspan font-style="italic">P</tspan> for nonlinearity = 0.188</text>
<!-- section 3 -->
<rect x="2" y="403" width="679" height="42.6" fill="#deebf7"/>
<text x="342.3" y="431.6" font-size="19.46" text-anchor="middle" fill="#111" font-family="'Liberation Serif', serif">LV dysfunction mediate part of the effect of BA acceleration on mortality</text>
<!-- KDMAge box -->
<rect x="43.4" y="493.7" width="128.2" height="61.4" rx="9" fill="#fff" stroke="#5b9bd5" stroke-width="1.3"/>
<mask id="dm" maskUnits="userSpaceOnUse" x="40" y="495" width="60" height="50"><rect x="40" y="495" width="60" height="50" fill="#fff"/><path d="M79.7,505.2 C77.6,507.8 74.7,511 74.7,514.3 A5,5 0 0 0 84.7,514.3 C84.7,511 81.8,507.8 79.7,505.2 Z" fill="#000" stroke="#000" stroke-width="4.2" stroke-linejoin="round"/></mask>
<g fill="#64a0d8">
<path mask="url(#dm)" d="M68.5,504.2 C64.5,509 56.6,516.5 56.6,525 A11.9,11.9 0 0 0 80.4,525 C80.4,516.5 72.5,509 68.5,504.2 Z"/>
<path d="M79.7,505.2 C77.6,507.8 74.7,511 74.7,514.3 A5,5 0 0 0 84.7,514.3 C84.7,511 81.8,507.8 79.7,505.2 Z"/>
</g>
<path d="M62.4,524.8 L74.3,524.8 M68.35,519.1 L68.35,530.3" stroke="#fff" stroke-width="3" stroke-linecap="round"/>
<text x="127.4" y="517.9" font-size="14.3" text-anchor="middle" fill="#111" font-family="'Liberation Serif', serif">KDMAge</text>
<text x="126.8" y="539.3" font-size="14.6" text-anchor="middle" fill="#111" font-family="'Liberation Serif', serif">acceleration</text>
<!-- connectors left -->
<line x1="179.9" y1="511.1" x2="251.3" y2="471.3" stroke="url(#c1)" stroke-width="4.0"/>
<line x1="179.9" y1="524.4" x2="251.5" y2="524.4" stroke="url(#c2)" stroke-width="5.0"/>
<line x1="179.9" y1="537.8" x2="251.3" y2="572.8" stroke="url(#c3)" stroke-width="4.0"/>
<!-- mediator boxes -->
<rect x="253.8" y="451.1" width="173.8" height="39.3" rx="6" fill="#deebf7"/>
<text x="340.5" y="469.5" font-size="14.49" text-anchor="middle" fill="#111" font-family="'Liberation Serif', serif">LVMI Mediation effect</text>
<text x="340.5" y="483.3" font-size="10.89" text-anchor="middle" fill="#111" font-family="'Liberation Serif', serif">HR (95% CI): 1.014 (1.005, 1.086)</text>
<rect x="253.8" y="502.8" width="173.8" height="38.8" rx="6" fill="#deebf7"/>
<text x="340.5" y="519.2" font-size="14.49" text-anchor="middle" fill="#111" font-family="'Liberation Serif', serif">Direct effect</text>
<text x="340.5" y="533.2" font-size="10.89" text-anchor="middle" fill="#111" font-family="'Liberation Serif', serif">HR (95% CI): 1.52 (1.36, 1.73)</text>
<rect x="253.8" y="552.1" width="173.8" height="38.6" rx="6" fill="#deebf7"/>
<text x="340.9" y="569.5" font-size="14.49" text-anchor="middle" fill="#111" font-family="'Liberation Serif', serif">E/e' ratio Mediation effect</text>
<text x="340.9" y="583.5" font-size="10.89" text-anchor="middle" fill="#111" font-family="'Liberation Serif', serif">HR (95% CI): 1.015 (1.004, 1.036)</text>
<!-- arrows right -->
<line x1="430.2" y1="471.3" x2="503.16" y2="500.92" stroke="url(#a1)" stroke-width="4.6"/>
<polygon points="511.50,504.30 495.82,505.71 502.70,500.73 501.24,492.36" fill="#6a9fd6"/>
<line x1="430.2" y1="521.4" x2="502.3" y2="521.4" stroke="url(#a2)" stroke-width="5.0"/>
<polygon points="511.30,521.40 497.30,528.60 501.80,521.40 497.30,514.20" fill="#6a9fd6"/>
<line x1="430.2" y1="570.7" x2="503.17" y2="540.81" stroke="url(#a3)" stroke-width="4.6"/>
<polygon points="511.50,537.40 501.27,549.37 502.71,541.00 495.82,536.04" fill="#6a9fd6"/>
<text x="469.5" y="490.5" font-size="12.9" text-anchor="middle" fill="#111" font-family="'Liberation Serif', serif">3.96%</text>
<text x="469.5" y="558.9" font-size="12.9" text-anchor="middle" fill="#111" font-family="'Liberation Serif', serif">4.17%</text>
<!-- all-cause box -->
<rect x="512.5" y="490.6" width="131" height="61.8" rx="9.5" fill="#fff" stroke="#4a4a4a" stroke-width="1.3"/>
<use href="#tomb" transform="translate(515.3,498) scale(0.953)"/>
<text x="600.5" y="517.6" font-size="14.15" text-anchor="middle" fill="#111" font-family="'Liberation Serif', serif">All-cause</text>
<text x="600.5" y="534.6" font-size="14.15" text-anchor="middle" fill="#111" font-family="'Liberation Serif', serif">mortality</text>
<!-- border -->
<rect x="1.4" y="1.3" width="681.9" height="603.8" fill="none" stroke="#1d2c4e" stroke-width="1.4"/>
<rect x="682.4" y="541.5" width="1.4" height="3" fill="#f0506a"/>
<rect x="682.4" y="574.5" width="1.4" height="7" fill="#f0506a"/>
</svg>
</body></html>
